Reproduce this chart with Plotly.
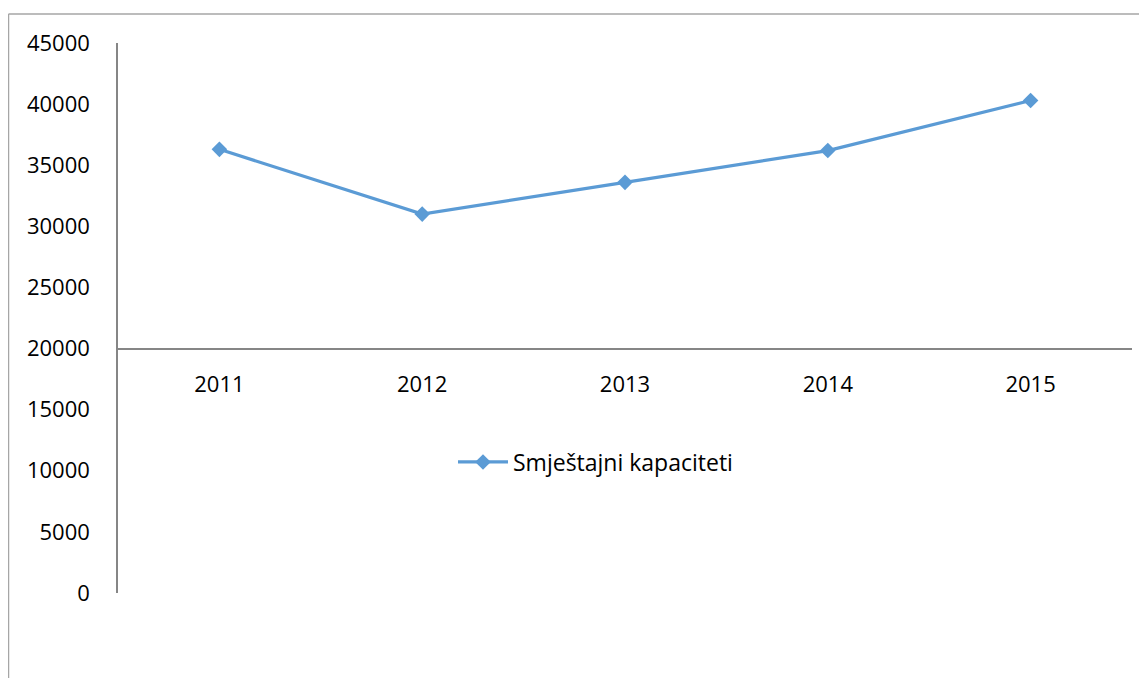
import plotly.graph_objects as go

years = ["2011", "2012", "2013", "2014", "2015"]
capacity = [36300, 31000, 33600, 36200, 40300]
series_name = "Smještajni kapaciteti"
y_ticks = [0, 5000, 10000, 15000, 20000, 25000, 30000, 35000, 40000, 45000]

# page has an 8px body margin, so the figure is drawn offset by 8px
OFF = 8
W, H = 1147 - OFF, 678 - OFF
L, R, T, B = 118 - OFF, 15, 43 - OFF, 85
pw = W - L - R
ph = H - T - B

def px_x(p):
    return (p - OFF - L) / pw

def px_y(p):
    return (H - B - (p - OFF)) / ph

font = "Open Sans"
color = "#5B9BD5"
axis_col = "#868686"

fig = go.Figure()
fig.add_trace(go.Scatter(
    x=years, y=capacity, name=series_name, mode="lines+markers",
    line=dict(color=color, width=3.2),
    marker=dict(symbol="diamond", size=12, color=color),
    showlegend=True,
))

fig.update_layout(
    width=W, height=H,
    margin=dict(l=L, r=R, t=T, b=B),
    paper_bgcolor="white", plot_bgcolor="white",
    font=dict(family=font, size=22, color="#000000"),
    showlegend=True,
    legend=dict(x=px_x(453), y=px_y(462), xanchor="left", yanchor="middle",
                bgcolor="rgba(0,0,0,0)", font=dict(size=23, family=font),
                itemwidth=50),
    xaxis=dict(
        type="category", range=[-0.5, 4.5], showgrid=False, zeroline=False,
        showline=True, linecolor=axis_col, linewidth=1.5,
        anchor="free", position=20000 / 45000,
        ticks="", ticklabelstandoff=16,
        tickfont=dict(size=22, family=font),
    ),
    yaxis=dict(
        range=[0, 45000], tickvals=y_ticks, ticktext=[str(v) for v in y_ticks],
        showgrid=False, zeroline=False,
        showline=True, linecolor=axis_col, linewidth=1.5,
        ticks="", ticklabelstandoff=22,
        tickfont=dict(size=22, family=font),
    ),
)

# outer chart-area border (top and left edges visible)
fig.add_shape(type="line", xref="paper", yref="paper",
              x0=px_x(8.5), y0=px_y(14), x1=px_x(1160), y1=px_y(14),
              line=dict(color="#a6a6a6", width=1.5))
fig.add_shape(type="line", xref="paper", yref="paper",
              x0=px_x(8.5), y0=px_y(14), x1=px_x(8.5), y1=px_y(700),
              line=dict(color="#a6a6a6", width=1.5))

fig.write_html("out.html")
